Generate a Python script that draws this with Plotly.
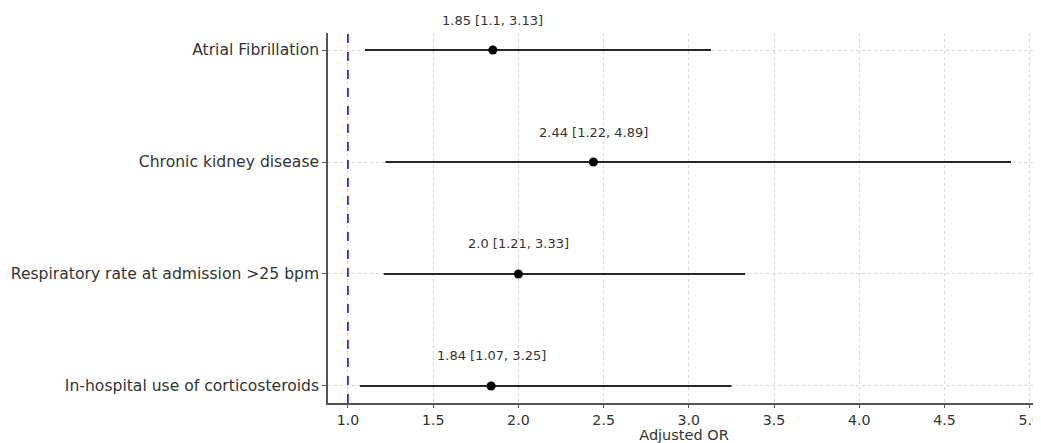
import plotly.graph_objects as go

categories = ["Atrial Fibrillation", "Chronic kidney disease",
              "Respiratory rate at admission >25 bpm", "In-hospital use of corticosteroids"]
odds_ratio = [1.85, 2.44, 2.0, 1.84]
ci_low = [1.1, 1.22, 1.21, 1.07]
ci_high = [3.13, 4.89, 3.33, 3.25]
x_ticks = [1.0, 1.5, 2.0, 2.5, 3.0, 3.5, 4.0, 4.5, 5.0]

labels = [f"{o} [{l}, {h}]" for o, l, h in zip(odds_ratio, ci_low, ci_high)]

fig = go.Figure()
fig.add_trace(go.Scatter(
    x=odds_ratio, y=categories, mode="markers",
    marker=dict(color="black", size=9),
    error_x=dict(type="data", symmetric=False,
                 array=[h - o for o, h in zip(odds_ratio, ci_high)],
                 arrayminus=[o - l for o, l in zip(odds_ratio, ci_low)],
                 color="#262626", thickness=2.2, width=0),
    showlegend=False,
))

for o, c, t in zip(odds_ratio, categories, labels):
    fig.add_annotation(x=o, y=c, text=t, showarrow=False, yshift=30,
                       font=dict(family="DejaVu Sans", size=13, color="#333333"))

fig.add_vline(x=1.0, line=dict(color="blue", width=1.5, dash="dash"))

# page body has an 8px default margin; compensate so the figure fills 1041x443
fig.update_layout(
    width=1033, height=435,
    margin=dict(l=320, r=1, t=25, b=40, autoexpand=False),
    plot_bgcolor="white", paper_bgcolor="white",
    font=dict(family="DejaVu Sans", size=15, color="#333333"),
)
fig.update_xaxes(
    range=[0.883, 5.06], tickvals=x_ticks, ticktext=[f"{v:.1f}" for v in x_ticks],
    showgrid=True, gridcolor="#d9d9d9", griddash="dot", gridwidth=1,
    showline=True, linecolor="#555555", linewidth=1.5,
    ticks="outside", ticklen=3, tickcolor="#555555",
    tickfont=dict(size=14.2), ticklabeloverflow="allow", automargin=False,
    title=dict(text="Adjusted OR", standoff=5, font=dict(size=14.5)),
    zeroline=False,
)
fig.update_yaxes(
    type="category", categoryorder="array", categoryarray=categories[::-1],
    range=[-0.152, 3.152],
    showgrid=True, gridcolor="#d9d9d9", griddash="dot", gridwidth=1,
    showline=True, linecolor="#555555", linewidth=1.5,
    ticks="outside", ticklen=4, tickcolor="#555555",
    tickfont=dict(size=15.6), automargin=False,
    zeroline=False,
)
fig.write_html("out.html")
